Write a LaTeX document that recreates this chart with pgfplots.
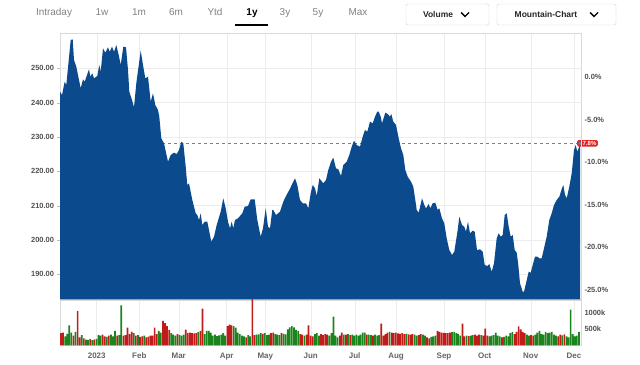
\documentclass[border=0pt]{standalone}
\usepackage{fontspec}
\setmainfont{Liberation Sans}
\usepackage{pgfplots}
\pgfplotsset{compat=1.18}
\definecolor{mblue}{RGB}{11,74,140}
\definecolor{vgreen}{RGB}{28,132,28}
\definecolor{vred}{RGB}{192,28,26}
\definecolor{tickgray}{RGB}{80,80,80}
\definecolor{monthgray}{RGB}{100,100,100}
\definecolor{tabgray}{RGB}{130,130,130}
\definecolor{gridgray}{RGB}{236,236,236}
\definecolor{lblred}{RGB}{232,35,31}
\definecolor{dotblue}{RGB}{60,140,220}
\definecolor{dashred}{RGB}{228,80,95}
\begin{document}
\begin{tikzpicture}
\path[fill=white] (0,0) rectangle (640bp,365bp);
% toolbar
\begin{scope}[every node/.style={font=\fontsize{10}{12}\selectfont, text=tabgray, anchor=base}]
\node at (54bp,349bp) {Intraday};
\node at (102bp,349bp) {1w};
\node at (139bp,349bp) {1m};
\node at (176bp,349bp) {6m};
\node at (215bp,349bp) {Ytd};
\node[text=black, font=\fontsize{10}{12}\selectfont\bfseries] at (252bp,349bp) {1y};
\node at (285bp,349bp) {3y};
\node at (318bp,349bp) {5y};
\node at (358bp,349bp) {Max};
\end{scope}
\draw[line width=2bp] (235bp,339.5bp) -- (268bp,339.5bp);
\draw[gray!35, rounded corners=2bp] (406bp,340bp) rectangle (489bp,361bp);
\draw[gray!35, rounded corners=2bp] (497bp,340bp) rectangle (616bp,361bp);
\node[font=\fontsize{8.5}{10}\selectfont\bfseries, text=black!85, anchor=base] at (438bp,347.5bp) {Volume};
\node[font=\fontsize{8.5}{10}\selectfont\bfseries, text=black!85, anchor=base] at (546bp,347.5bp) {Mountain-Chart};
\draw[line width=1.4bp] (461bp,352.5bp) -- (465bp,348.5bp) -- (469bp,352.5bp);
\draw[line width=1.4bp] (590bp,352.5bp) -- (594bp,348.5bp) -- (598bp,352.5bp);

% price axis
\begin{axis}[
  at={(60bp,65.7bp)}, anchor=south west, scale only axis,
  width=521bp, height=266.3bp,
  xmin=0, xmax=521, ymin=182.71, ymax=260.29,
  axis line style={draw=gray!30},
  xtick={36.7,79.3,118.7,166.7,205.3,250.7,294.7,336,384,424.7,470.7,514},
  xticklabels={}, xtick style={draw=none},
  ytick={190,200,210,220,230,240,250},
  yticklabels={190.00,200.00,210.00,220.00,230.00,240.00,250.00},
  ytick pos=left, tick align=outside, major tick length=2.5bp,
  ytick style={draw=gray!50},
  yticklabel style={font=\fontsize{7.5}{9}\selectfont\bfseries, text=tickgray},
  grid=major, grid style={gridgray},
  clip mode=individual,
]
\draw[dashred, line width=0.8bp, dash pattern=on 3bp off 3bp] (axis cs:0,228.15) -- (axis cs:521,228.15);
\addplot[fill=mblue, draw=none] coordinates {
(0,243.19)(2,242.23)(4.7,246.10)(6.3,245.14)(10.7,258.25)(12.7,258.45)(14,252.42)(16.3,250.47)
(20.7,244.18)(23,246.80)(24.7,246.10)(29,249.71)(30.3,247.56)(32.3,248.55)(34,247.09)(37.3,247.76)
(39.3,250.97)(40.7,249.01)(43,255.83)(45.3,254.55)(48,256.12)(49.7,254.84)(52,256.30)(54,254.84)
(56.3,256.79)(58.7,253.88)(60.7,250.97)(63.3,256.30)(66,256.12)(68,249.51)(69.3,243.19)(72,240.77)
(74,238.64)(76.3,245.63)(80.7,255.13)(83.3,250.47)(85.3,247.09)(88,247.56)(90.7,240.27)(93,242.72)
(95.3,239.31)(98,237.86)(99.3,235.91)(101.3,229.61)(104,228.16)(108,222.80)(110.7,224.75)(114,225.42)
(116.7,225.04)(119,226.20)(121.3,228.62)(123.3,228.16)(125.7,221.34)(127.3,216.01)(129,216.51)(132.3,211.64)
(135.7,207.77)(137.3,207.27)(139,205.81)(140.7,207.77)(142.3,204.36)(144.7,205.32)(147.3,205.32)(149,202.90)
(151.3,199.49)(154,200.95)(156.7,204.36)(160.7,208.23)(163.3,212.13)(165.7,209.22)(168,205.32)(170,203.40)
(171.7,205.32)(173.3,203.40)(175,205.81)(178,206.31)(182.3,207.77)(184.7,209.69)(188,209.89)(190.7,211.84)
(194.7,211.84)(197.3,205.81)(200.7,200.95)(203,203.40)(205.7,209.22)(208,203.86)(210,203.40)(212.3,208.73)
(213.3,208.73)(216,207.27)(220,208.23)(223.3,211.14)(226,212.81)(229.3,214.55)(231.7,216.01)(235,217.96)
(237.3,216.01)(240,211.64)(242.7,210.68)(246,210.68)(248.3,209.22)(250.7,213.59)(252.7,216.01)(255,215.05)
(256.7,212.81)(259.3,217.96)(263.3,216.51)(266,217.47)(268.3,220.38)(271,222.80)(273.3,223.96)(276,220.87)
(278.3,220.58)(281,218.63)(283.3,221.84)(286.7,222.80)(289.3,224.75)(291.7,227.17)(294,228.91)(296.7,227.66)
(300,227.17)(302.7,230.08)(305,232.03)(307.3,231.54)(310,234.45)(312.7,233.98)(315,235.91)(317.3,237.36)
(318.7,237.36)(320.7,235.91)(322,233.98)(325.3,237.07)(327.7,236.69)(330,235.91)(331.3,236.69)(333.3,234.45)
(336,233.49)(338.7,229.61)(341,226.70)(343.3,224.75)(345.3,220.38)(347.7,218.43)(351,216.97)(353.3,215.51)
(355.3,211.64)(356.7,208.73)(358.7,207.94)(362,212.13)(364.3,210.18)(366,209.22)(368.7,210.47)(370.3,209.22)
(372.7,210.68)(375.3,210.85)(377.7,208.73)(379.3,209.22)(382,206.31)(384.3,204.85)(386.7,200.48)(389.3,197.07)
(392,195.62)(394.3,196.58)(397.7,202.90)(399.3,206.78)(402,204.36)(404.3,203.86)(406,202.41)(408,205.32)
(410,201.94)(412.7,202.70)(414.7,202.41)(417,197.07)(420,197.28)(422.7,196.58)(424.7,192.71)(427.3,192.41)
(429.3,193.00)(431.7,190.75)(434,193.20)(436.7,200.48)(438.7,201.94)(440.7,200.95)(442.7,201.44)(444.7,207.27)
(446.7,207.77)(448.7,203.86)(450.7,200.95)(452.7,201.44)(454.7,197.07)(456.7,196.29)(458.3,192.70)(460,187.37)
(462.7,184.93)(464,184.93)(466,187.37)(468.7,190.75)(470.7,190.46)(472.7,192.70)(475,195.12)(477.3,195.12)
(479.3,194.66)(481.7,194.66)(484,197.57)(486.7,200.95)(489.3,205.81)(491.7,207.77)(494,210.18)(496.7,211.64)
(499.3,212.60)(502,215.05)(503.3,216.01)(505,213.10)(506.7,212.13)(509.3,215.51)(511.7,219.42)(514,226.20)
(515.7,227.66)(517.3,225.71)(518.7,226.70)(520,228.15)
} \closedcycle;
\node[fill=lblred, text=white, font=\fontsize{6}{7}\selectfont\bfseries, rounded corners=1.5bp,
  inner xsep=1.5bp, inner ysep=1.2bp, anchor=west] at (axis cs:517,228.15) {\hspace{2bp}-7.8\%};
\addplot[only marks, mark=*, mark size=2.2bp, mark options={fill=dotblue, draw=lblred, line width=0.8bp}]
  coordinates {(520,228.15)};
\end{axis}

% percent axis
\begin{axis}[
  at={(60bp,65.7bp)}, anchor=south west, scale only axis,
  width=521bp, height=266.3bp,
  xmin=0, xmax=521, ymin=-26.15, ymax=5.21,
  hide x axis, axis y line*=right,
  axis line style={draw=gray!30},
  ytick={-25,-20,-15,-10,-5,0},
  yticklabels={-25.0\%,-20.0\%,-15.0\%,-10.0\%,-5.0\%,0.0\%},
  ytick style={draw=none},
  yticklabel style={font=\fontsize{7.5}{9}\selectfont\bfseries, text=tickgray},
]
\end{axis}

% volume axis
\begin{axis}[
  at={(60bp,19.7bp)}, anchor=south west, scale only axis,
  width=521bp, height=45.3bp,
  xmin=-0.48, xmax=250, ymin=0, ymax=1416,
  axis line style={draw=gray!30},
  xtick={17.16,37.64,56.59,79.66,98.22,120.05,141.2,161.06,184.13,203.7,225.82,246.63},
  xticklabels={2023,Feb,Mar,Apr,May,Jun,Jul,Aug,Sep,Oct,Nov,Dec},
  xtick style={draw=none}, xmajorgrids, grid style={gridgray},
  xticklabel style={font=\fontsize{8}{10}\selectfont\bfseries, text=monthgray,
    text height=6bp, text depth=0bp, anchor=north, yshift=-4bp},
  ytick={500,1000}, yticklabels={500k,1000k},
  ytick pos=right, yticklabel pos=right, ytick style={draw=none},
  yticklabel style={font=\fontsize{7.5}{9}\selectfont\bfseries, text=tickgray},
]
\addplot[ybar, bar shift=0pt, bar width=1.7bp, fill=vred, draw=none] coordinates {
(0,380)(1,400)(6,300)(8,1070)(9,250)(11,220)(14,190)(16,180)(20,330)(21,280)(23,300)(27,300)(30,300)(31,320)
(32,550)(33,350)(34,420)(36,300)(38,260)(39,280)(41,250)(42,270)(43,300)(44,300)(45,550)(46,350)(49,760)(50,690)
(51,600)(52,480)(56,350)(60,490)(61,380)(62,400)(63,380)(64,370)(65,380)(67,450)(68,1145)(80,600)(81,650)(82,620)
(89,250)(92,1450)(93,320)(97,360)(101,380)(102,400)(106,380)(115,350)(116,330)(118,330)(119,620)(120,300)(121,280)
(125,350)(126,320)(127,350)(128,330)(134,300)(135,400)(137,330)(139,320)(147,330)(150,300)(154,675)(155,300)
(156,350)(157,400)(159,400)(160,380)(161,400)(162,370)(163,360)(164,380)(165,350)(167,340)(168,330)(169,350)
(172,320)(173,350)(176,250)(177,220)(181,450)(182,420)(183,400)(184,390)(185,380)(186,380)(187,400)(193,675)
(194,280)(196,290)(199,330)(200,300)(201,330)(203,300)(204,520)(205,300)(212,250)(218,350)(219,420)(220,590)
(221,500)(222,420)(223,380)(226,320)(227,300)(239,280)(240,330)(242,340)
};
\addplot[ybar, bar shift=0pt, bar width=1.7bp, fill=vgreen, draw=none] coordinates {
(2,280)(3,360)(4,620)(5,400)(7,420)(10,320)(12,180)(13,170)(15,160)(17,200)(18,320)(19,300)(22,260)(24,330)
(25,280)(26,450)(28,320)(29,1250)(35,380)(37,320)(40,300)(47,450)(48,400)(53,380)(54,330)(55,300)(57,320)(58,300)
(59,330)(66,410)(69,350)(70,450)(71,450)(72,400)(73,300)(74,330)(75,290)(76,310)(77,330)(78,380)(79,300)(83,600)
(84,550)(85,400)(86,350)(87,300)(88,280)(90,320)(91,280)(94,330)(95,340)(96,380)(98,380)(99,320)(100,330)(103,350)
(104,330)(105,320)(107,360)(108,340)(109,500)(110,560)(111,600)(112,560)(113,480)(114,450)(117,300)(122,350)
(123,380)(124,300)(129,300)(130,380)(131,900)(132,300)(133,250)(136,330)(138,350)(140,330)(141,300)(142,330)
(143,300)(144,330)(145,400)(146,400)(148,330)(149,320)(151,330)(152,300)(153,320)(158,420)(166,360)(170,330)
(171,300)(174,330)(175,300)(178,260)(179,280)(180,300)(188,410)(189,420)(190,380)(191,360)(192,300)(195,300)
(197,300)(198,320)(202,320)(206,280)(207,300)(208,320)(209,400)(210,300)(211,280)(213,260)(214,300)(215,280)
(216,380)(217,420)(224,330)(225,300)(228,330)(229,400)(230,450)(231,350)(232,330)(233,420)(234,380)(235,400)
(236,420)(237,330)(238,300)(241,310)(243,280)(244,250)(245,1115)(246,350)(247,280)(248,300)(249,420)
};
\end{axis}
\end{tikzpicture}
\end{document}
